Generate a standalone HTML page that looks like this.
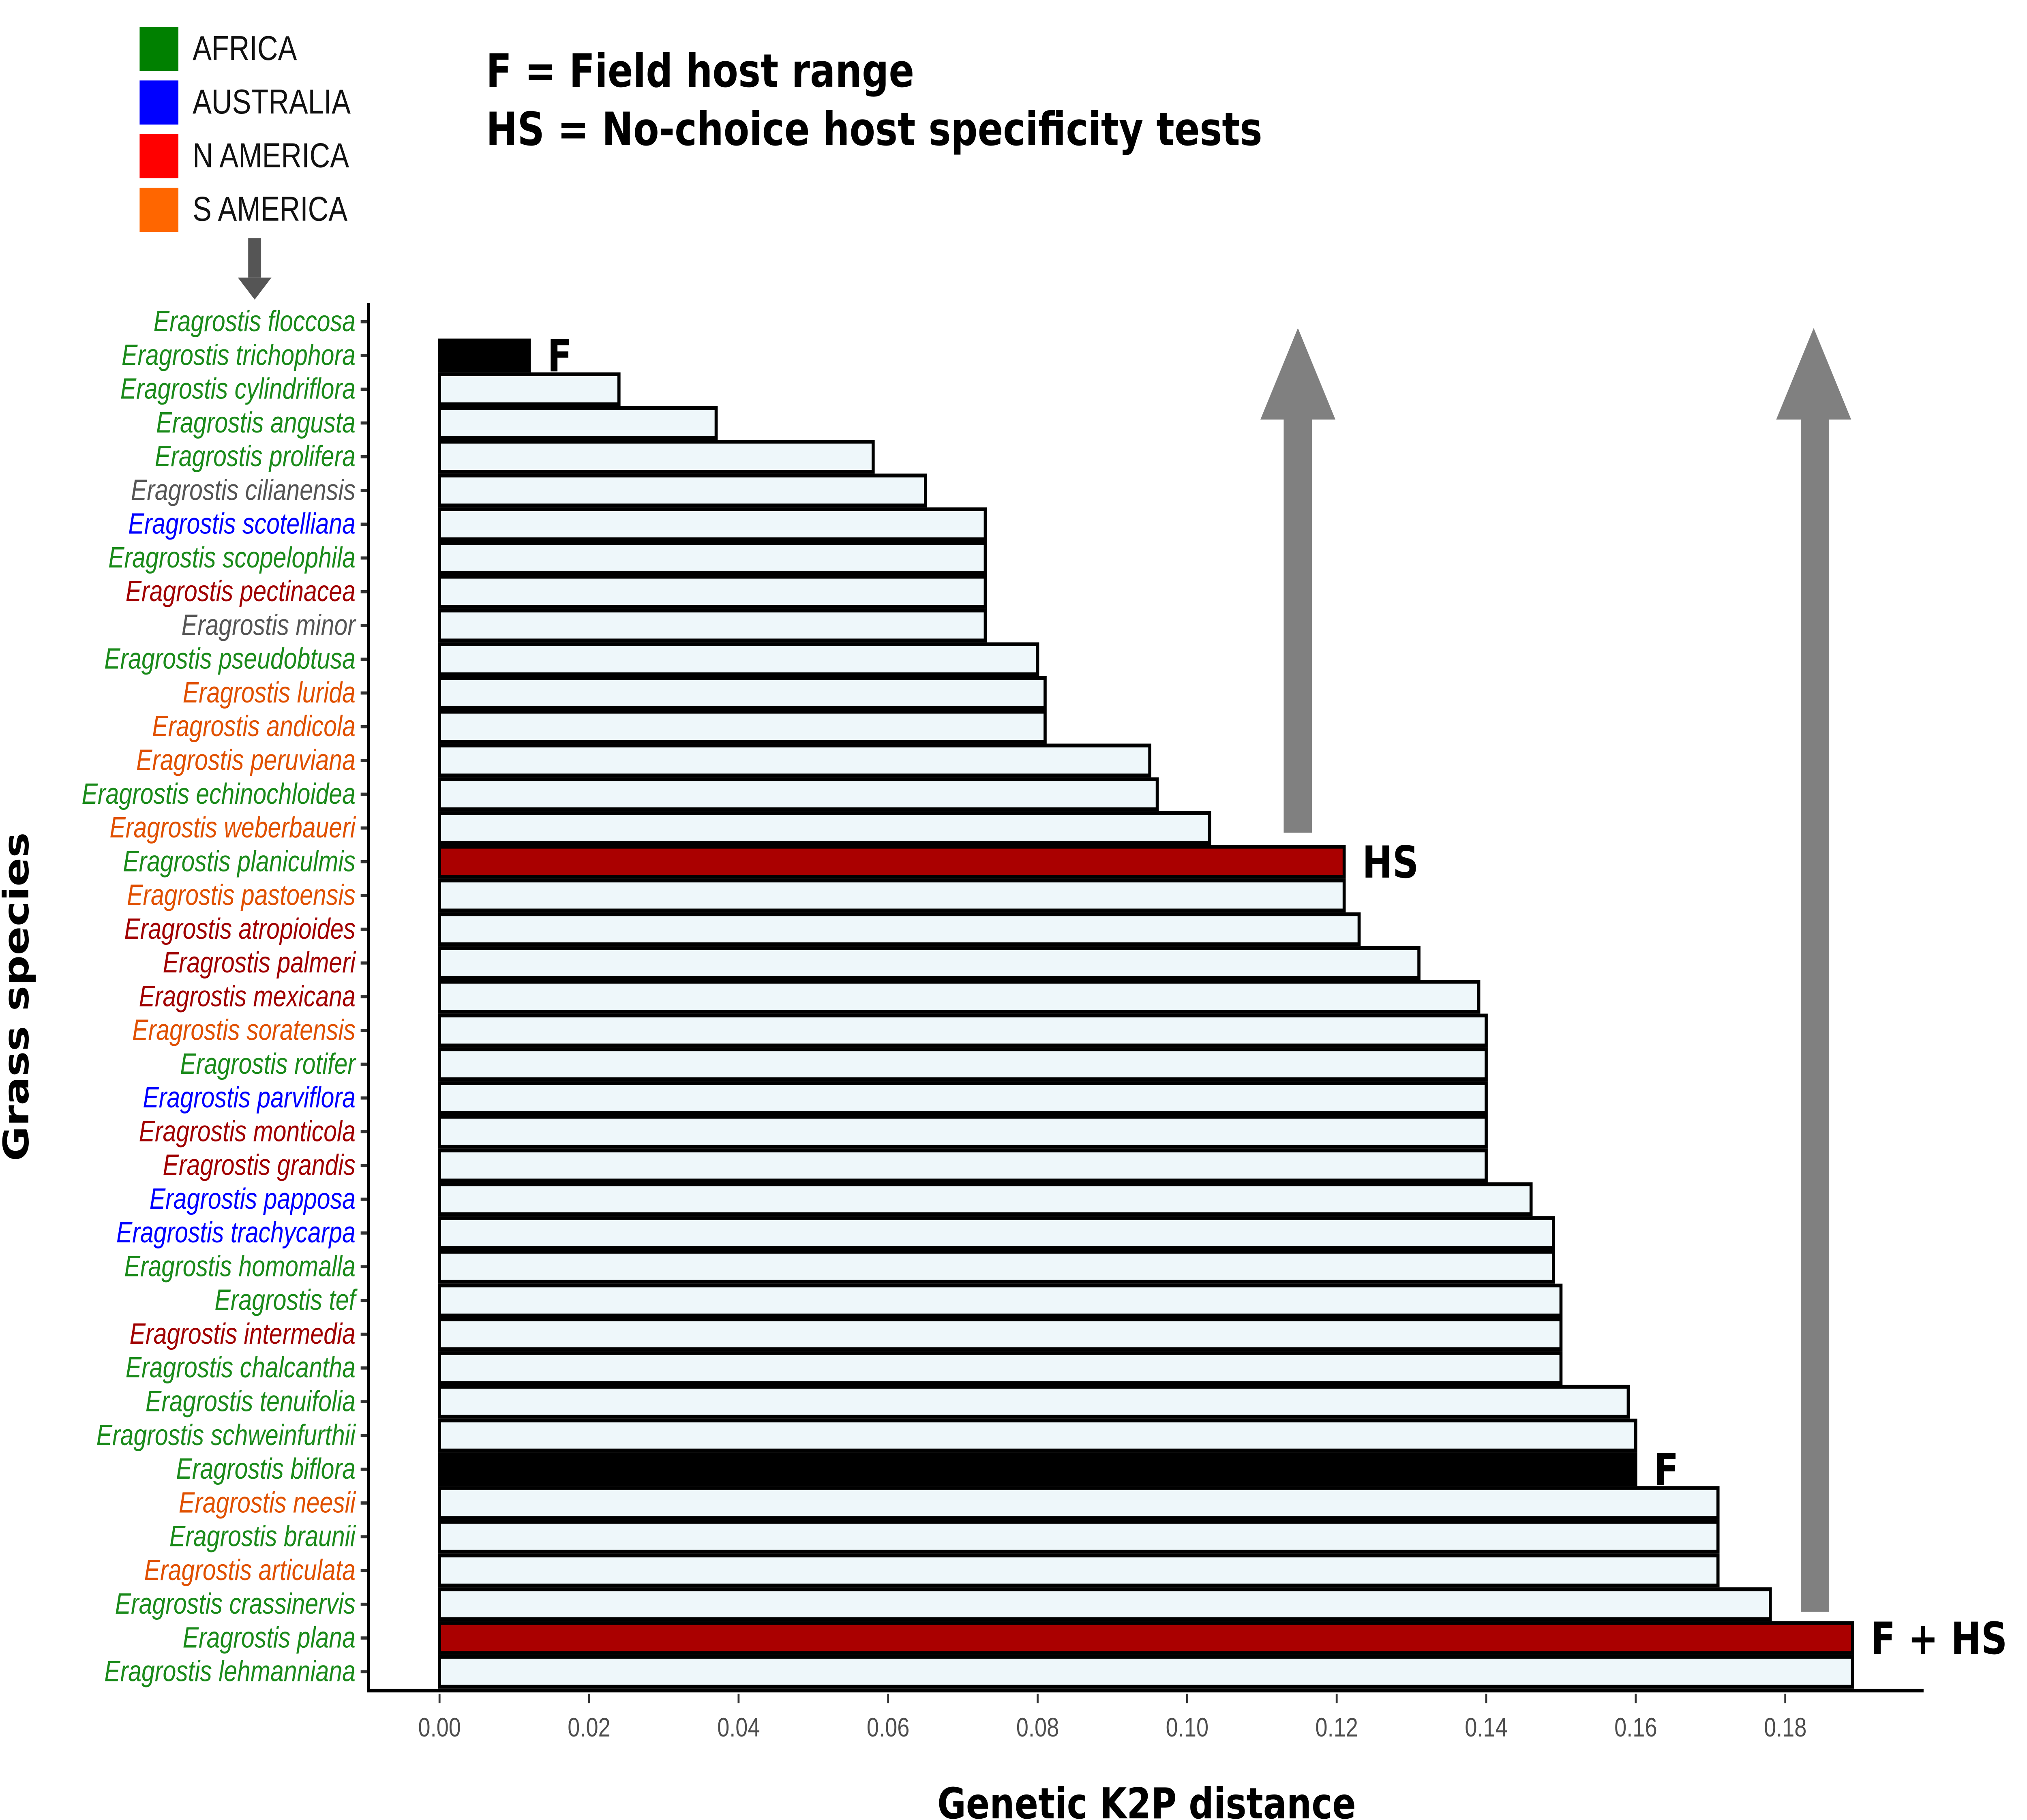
<!DOCTYPE html>
<html><head><meta charset="utf-8"><style>
html,body{margin:0;padding:0;background:#fff;width:100vw;height:100vh;overflow:hidden;}
svg{display:block;width:100vw;height:100vh;}
text{font-family:"Liberation Sans","DejaVu Sans",sans-serif;}
.dv{font-family:"DejaVu Sans","Liberation Sans",sans-serif;}
</style></head><body>
<svg id="chart" viewBox="0 0 1568 1154" preserveAspectRatio="none" xmlns="http://www.w3.org/2000/svg">
<g>
<rect x="108" y="17" width="30" height="28" fill="#008000"/>
<text x="149" y="38" font-size="22" fill="#111">AFRICA</text>
<rect x="108" y="51" width="30" height="28" fill="#0000ff"/>
<text x="149" y="72" font-size="22" fill="#111">AUSTRALIA</text>
<rect x="108" y="85" width="30" height="28" fill="#ff0000"/>
<text x="149" y="106" font-size="22" fill="#111">N AMERICA</text>
<rect x="108" y="119" width="30" height="28" fill="#ff6600"/>
<text x="149" y="140" font-size="22" fill="#111">S AMERICA</text>
</g>
<g fill="#555">
<rect x="192" y="151" width="10" height="25"/>
<polygon points="184,176 210,176 197,190"/>
</g>
<text class="dv" x="376" y="55" font-size="29" font-weight="bold" fill="#000">F = Field host range</text>
<text class="dv" x="376" y="92" font-size="29" font-weight="bold" fill="#000">HS = No-choice host specificity tests</text>
<g id="plot"></g>
<g fill="#808080">
<rect x="993" y="264" width="22" height="264"/>
<polygon points="975,266 1033,266 1004,208"/>
</g>
<g fill="#808080">
<rect x="1393" y="264" width="22" height="758"/>
<polygon points="1374,266 1432,266 1403,208"/>
</g>
<text class="dv" x="22" y="632" font-size="27" font-weight="bold" text-anchor="middle" transform="rotate(-90 22 632)">Grass species</text>
<text class="dv" x="887" y="1153" font-size="27" font-weight="bold" text-anchor="middle">Genetic K2P distance</text>
</svg>
<script>
const species = ["floccosa","trichophora","cylindriflora","angusta","prolifera","cilianensis","scotelliana","scopelophila","pectinacea","minor","pseudobtusa","lurida","andicola","peruviana","echinochloidea","weberbaueri","planiculmis","pastoensis","atropioides","palmeri","mexicana","soratensis","rotifer","parviflora","monticola","grandis","papposa","trachycarpa","homomalla","tef","intermedia","chalcantha","tenuifolia","schweinfurthii","biflora","neesii","braunii","articulata","crassinervis","plana","lehmanniana"];
const distances = [0,0.012,0.024,0.037,0.058,0.065,0.073,0.073,0.073,0.073,0.080,0.081,0.081,0.095,0.096,0.103,0.121,0.121,0.123,0.131,0.139,0.140,0.140,0.140,0.140,0.140,0.146,0.149,0.149,0.150,0.150,0.150,0.159,0.160,0.160,0.171,0.171,0.171,0.178,0.189,0.189];
const regions = ["AF","AF","AF","AF","AF","X","AU","AF","NA","X","AF","SA","SA","SA","AF","SA","AF","SA","NA","NA","NA","SA","AF","AU","NA","NA","AU","AU","AF","AF","NA","AF","AF","AF","AF","SA","AF","SA","AF","AF","AF"];
const barType = ["n","F","n","n","n","n","n","n","n","n","n","n","n","n","n","n","HS","n","n","n","n","n","n","n","n","n","n","n","n","n","n","n","n","n","F","n","n","n","n","FHS","n"];
const annotations = [["F",1,"F"],["HS",16,"HS"],["F",34,"F"],["F + HS",39,"FHS"]];
const xTicks = [0,0.02,0.04,0.06,0.08,0.10,0.12,0.14,0.16,0.18];
const xTickLabels = ["0.00","0.02","0.04","0.06","0.08","0.10","0.12","0.14","0.16","0.18"];

const NS="http://www.w3.org/2000/svg";
const plot=document.getElementById('plot');
const x=v=>340+v*(1381-340)/0.18;
const y=i=>204+i*(1060-204)/(species.length-1);
const col={AF:"#1a8a1a",AU:"#0000ff",NA:"#a00000",SA:"#e05000",X:"#555555"};
const fillFor={n:"#eef7fa",F:"#000000",HS:"#aa0000",FHS:"#aa0000"};
function mk(tag,attrs){const e=document.createElementNS(NS,tag);for(const k in attrs)e.setAttribute(k,attrs[k]);plot.appendChild(e);return e;}
species.forEach((s,i)=>{
  const b=mk('rect',{x:x(0),y:y(i)-9.5,width:x(distances[i])-x(0),height:19,fill:fillFor[barType[i]],stroke:"#000","stroke-width":2.4});
  
  
  const t=mk('text',{x:275,y:y(i)+6,"font-size":18.5,"font-style":"italic","text-anchor":"end",fill:col[regions[i]]});
  t.textContent="Eragrostis "+s;
  
  
  const tk=mk('line',{x1:279,x2:285,y1:y(i),y2:y(i),stroke:"#333","stroke-width":2});
  
  
});
annotations.forEach(a=>{
  const i=a[1];
  const t=mk('text',{x:x(distances[i])+14,y:y(i)+10,"font-size":28,"font-weight":"bold",fill:"#000","class":"dv"});
  t.textContent=a[0];
  
  
});
const ya=mk('line',{x1:285,x2:285,y1:192,y2:1073,stroke:"#000","stroke-width":2.2});


const xa=mk('line',{x1:284,x2:1488,y1:1072,y2:1072,stroke:"#000","stroke-width":2.2});


xTicks.forEach((v,k)=>{
  const l=mk('line',{x1:x(v),x2:x(v),y1:1074,y2:1080,stroke:"#333","stroke-width":1.5});
  
  
  const t=mk('text',{x:x(v),y:1101,"font-size":17,"text-anchor":"middle",fill:"#4d4d4d"});
  t.textContent=xTickLabels[k];
  
  
});
</script>
</body></html>
